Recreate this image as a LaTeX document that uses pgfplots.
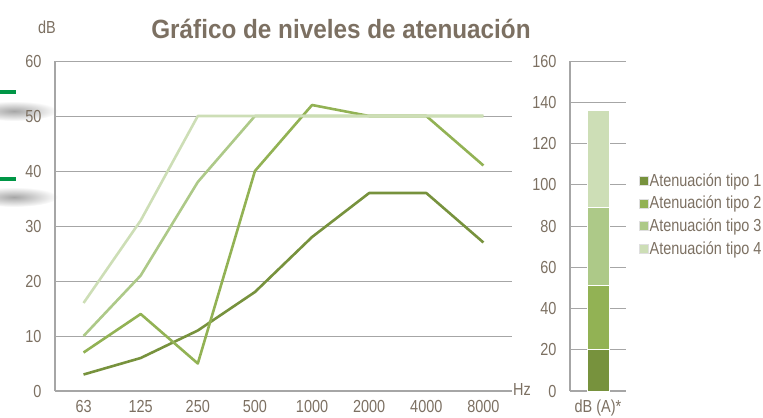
\documentclass[border=0pt]{standalone}
\usepackage{pgfplots}
\pgfplotsset{compat=1.18}
\usepackage{fontspec}
\setmainfont{Liberation Sans}[FakeStretch=0.83]
\newfontfamily\titlefont{Liberation Sans}[FakeStretch=0.92]
\definecolor{c1}{RGB}{119,146,61}
\definecolor{c2}{RGB}{146,178,84}
\definecolor{c3}{RGB}{173,201,136}
\definecolor{c4}{RGB}{205,222,182}
\definecolor{txt}{RGB}{124,112,98}
\definecolor{gridc}{RGB}{166,166,166}
\definecolor{greenmark}{RGB}{0,150,70}
\newcommand{\lab}{\fontsize{17.5}{18}\selectfont}
\pgfplotsset{
  common/.style={
    scale only axis,
    /pgf/number format/assume math mode=true,
    ticklabel style={font=\lab, text=txt},
    major tick length=0pt,
    tick style={draw=none},
    axis lines*=left,
    axis line style={draw=gridc, line width=1.3bp, -},
    ymajorgrids,
    grid style={draw=gridc, line width=0.8bp},
    yticklabel style={xshift=-10bp},
  }
}
\begin{document}
\begin{tikzpicture}[x=1bp,y=1bp]
\path[use as bounding box] (0,0) rectangle (763,417);
% left-edge decorations
\shade[inner color=black!35, outer color=white] (14,306) ellipse (44 and 10);
\shade[inner color=black!35, outer color=white] (14,220) ellipse (44 and 10);
\draw[greenmark, line width=4bp] (0,325) -- (16,325);
\draw[greenmark, line width=4bp] (0,238) -- (16,238);
\begin{axis}[common,
  at={(55bp,26bp)}, anchor=south west,
  width=457bp, height=330bp,
  xmin=-0.5, xmax=7.5, ymin=0, ymax=60,
  xtick={0,...,7}, xticklabels={63,125,250,500,1000,2000,4000,8000},
  xticklabel style={yshift=-6bp},
  ytick={0,10,...,60},
]
\addplot[c1, line width=2.6bp, line join=round] coordinates {(0,3)(1,6)(2,11)(3,18)(4,28)(5,36)(6,36)(7,27)};
\addplot[c2, line width=2.6bp, line join=round] coordinates {(0,7)(1,14)(2,5)(3,40)(4,52)(5,50)(6,50)(7,41)};
\addplot[c3, line width=2.6bp, line join=round] coordinates {(0,10)(1,21)(2,38)(3,50)(4,50)(5,50)(6,50)(7,50)};
\addplot[c4, line width=2.6bp, line join=round] coordinates {(0,16)(1,31)(2,50)(3,50)(4,50)(5,50)(6,50)(7,50)};
\end{axis}
\begin{axis}[common,
  at={(570bp,26bp)}, anchor=south west,
  width=56bp, height=330bp,
  xmin=-1, xmax=1, ymin=0, ymax=160,
  xtick=\empty,
  ytick={0,20,...,160},
  ybar stacked, bar width=22bp,
  legend style={at={(rel axis cs:1.17,0.671)}, anchor=north west, draw=none, fill=none,
    font=\lab, text=txt, row sep=5.5bp,
    nodes={inner sep=1.5bp}},
  legend cell align=left,
  legend image code/.code={\draw[#1, draw=white!75!gray, line width=0.4bp] (0bp,-4.5bp) rectangle (9bp,4.5bp);},
]
\addplot[fill=c1, draw=white, line width=0.8bp] coordinates {(0,20)};
\addplot[fill=c2, draw=white, line width=0.8bp] coordinates {(0,31)};
\addplot[fill=c3, draw=white, line width=0.8bp] coordinates {(0,38)};
\addplot[fill=c4, draw=white, line width=0.8bp] coordinates {(0,47)};
\legend{Atenuación tipo 1, Atenuación tipo 2, Atenuación tipo 3, Atenuación tipo 4}
\end{axis}
\node[text=txt, font=\titlefont\fontsize{26.5}{28}\bfseries\selectfont, anchor=base] at (341,379) {Gráfico de niveles de atenuación};
\node[text=txt, font=\lab] at (47,390) {dB};
\node[text=txt, font=\lab, anchor=west, inner sep=1bp] at (512,28) {Hz};
\node[text=txt, font=\lab, anchor=base] at (598,4.5) {dB (A)*};
\end{tikzpicture}
\end{document}
